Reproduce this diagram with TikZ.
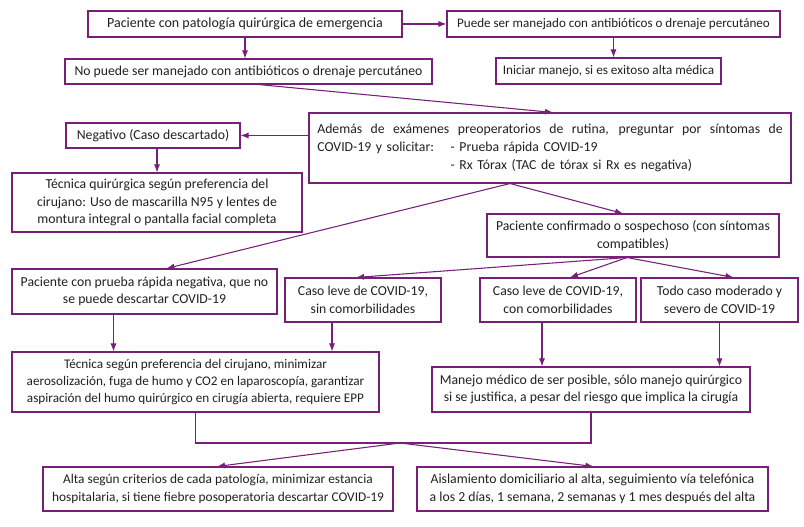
\documentclass[tikz,border=0pt]{standalone}
\usepackage{fontspec}
\setmainfont{Carlito}
\usetikzlibrary{arrows.meta,positioning,calc}
\definecolor{morado}{RGB}{118,32,120}
\definecolor{texto}{RGB}{35,31,32}

\begin{document}
\begin{tikzpicture}[x=0.75pt, y=-0.75pt, >={Latex[length=6pt,width=4.6pt]},
  caja/.style={draw=morado, line width=0.8pt, align=center, inner sep=1pt, text=texto, font=\fontsize{10.3pt}{13.2pt}\selectfont},
  tam/.style 2 args={minimum width=#1*0.75pt, minimum height=#2*0.75pt},
  flecha/.style={->, draw=morado, line width=0.8pt}]
\useasboundingbox (0,0) rectangle (804,527);
% fila de arriba
\node[caja, tam={314}{26}, font=\fontsize{10.5pt}{13pt}\selectfont] (pat) at (245,24) {Paciente con patología quirúrgica de emergencia};
\node[caja, tam={333}{26}, font=\fontsize{9.8pt}{13pt}\selectfont] (si) at (613.5,24) {Puede ser manejado con antibióticos o drenaje percutáneo};
\node[caja, tam={367}{25}] (no) at (248.5,71.5) {No puede ser manejado con antibióticos o drenaje percutáneo};
\node[caja, tam={225}{26}, font=\fontsize{9.9pt}{13pt}\selectfont] (ini) at (608.5,71) {Iniciar manejo, si es exitoso alta médica};
% examenes
\node[caja, tam={482}{70}, text width=349pt, align=left] (ade) at (550,148) {\makebox[349pt][s]{\spaceskip=0pt\relax Además de exámenes preoperatorios de rutina, preguntar por síntomas de}\\
  \makebox[100pt][l]{COVID-19 y solicitar:}- Prueba rápida COVID-19\\
  \hspace*{100pt}- Rx Tórax (TAC de tórax si Rx es negativa)};
\node[caja, tam={174}{25}] (neg) at (153,135.5) {Negativo (Caso descartado)};
\node[caja, tam={290}{59}] (tq) at (157,202.5) {Técnica quirúrgica según preferencia del\\cirujano: Uso de mascarilla N95 y lentes de\\montura integral o pantalla facial completa};
\node[caja, tam={292}{43}] (sos) at (633,235.5) {Paciente confirmado o sospechoso (con síntomas\\compatibles)};
% casos
\node[caja, tam={265}{45}] (prn) at (144.5,291.5) {Paciente con prueba rápida negativa, que no\\se puede descartar COVID-19};
\node[caja, tam={156}{44}] (lsc) at (363,300) {Caso leve de COVID-19,\\sin comorbilidades};
\node[caja, tam={156}{44}] (lcc) at (558,300) {Caso leve de COVID-19,\\con comorbilidades};
\node[caja, tam={157}{44}] (mod) at (719.5,300) {Todo caso moderado y\\severo de COVID-19};
\node[caja, tam={367}{60}, font=\fontsize{9.9pt}{13pt}\selectfont] (tec) at (195.5,382) {Técnica según preferencia del cirujano, minimizar\\aerosolización, fuga de humo y CO2 en laparoscopía, garantizar\\aspiración del humo quirúrgico en cirugía abierta, requiere EPP};
\node[caja, tam={318}{45}] (man) at (591,389.5) {Manejo médico de ser posible, sólo manejo quirúrgico\\si se justifica, a pesar del riesgo que implica la cirugía};
% alta
\node[caja, tam={350}{44}, font=\fontsize{10pt}{13.2pt}\selectfont] (alt) at (218,489) {Alta según criterios de cada patología, minimizar estancia\\hospitalaria, si tiene fiebre posoperatoria descartar COVID-19};
\node[caja, tam={351}{44}] (ais) at (592.5,489) {Aislamiento domiciliario al alta, seguimiento vía telefónica\\a los 2 días, 1 semana, 2 semanas y 1 mes después del alta};

% flechas
\draw[flecha] (pat.east) -- (si.west);
\draw[flecha] (pat.south) -- (no.north -| pat.south);
\draw[flecha] (si.south) -- (si.south |- ini.north);
\draw[flecha] ([shift={(10,0)}]no.south) -- ([shift={(3,0)}]ade.north);
\draw[flecha] (ade.west |- neg.east) -- (neg.east);
\draw[flecha] (tq.north |- neg.south) -- (tq.north);
\coordinate (b1) at ([shift={(-40,0)}]ade.south);
\draw[flecha] (b1) -- ([shift={(22,0)}]prn.north);
\draw[flecha] (b1) -- ([shift={(-10,0)}]sos.north);
\coordinate (b2) at ([shift={(-6,0)}]sos.south);
\draw[flecha] (b2) -- ([shift={(-7,0)}]lsc.north);
\draw[flecha] (b2) -- ([shift={(12,0)}]lcc.north);
\draw[flecha] (b2) -- ([shift={(14,0)}]mod.north);
\foreach \n in {prn,lsc} {
  \coordinate (a\n) at ([shift={(-31,0)}]\n.south);
  \draw[flecha] (a\n) -- (a\n |- tec.north);
}
\coordinate (alcc) at ([shift={(-16,0)}]lcc.south);
\draw[flecha] (alcc) -- (alcc |- man.north);
\draw[flecha] (mod.south) -- (mod.south |- man.north);
\coordinate (j) at (400,443);
\draw[morado, line width=0.8pt] (tec.south) |- (j) -| (man.south);
\draw[flecha] (j) -- ([shift={(-1,0)}]alt.north);
\draw[flecha] (j) -- ([shift={(1,0)}]ais.north);
\end{tikzpicture}
\end{document}
